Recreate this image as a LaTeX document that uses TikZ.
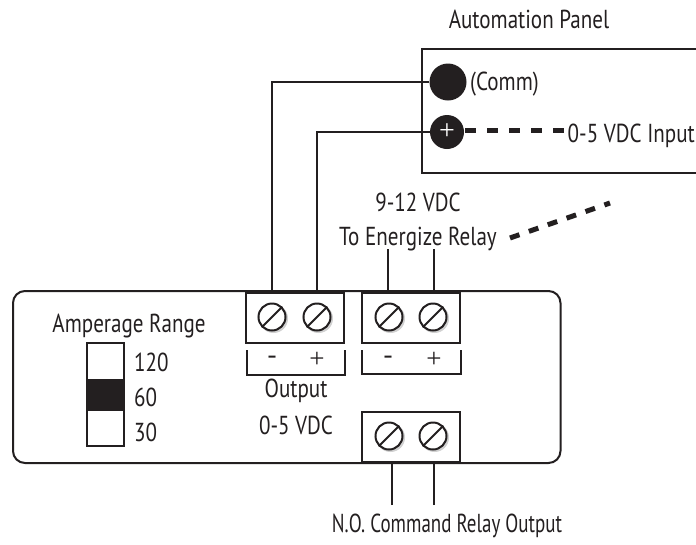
\documentclass[tikz,border=0pt]{standalone}
\usepackage{fontspec}
\setmainfont[FakeStretch=0.81]{PT Sans}
\newfontfamily\narrowfont[FakeStretch=0.73]{PT Sans}
\newfontfamily\thinsym{Liberation Serif}
\definecolor{ink}{HTML}{231F20}
\tikzset{
 wire/.style={draw=ink,line width=1.8pt},
 heavy/.style={draw=ink,line width=2pt},
 thickdash/.style={draw=ink,line width=5pt,dash pattern=on 11pt off 11pt},
 label/.style={inner sep=0pt,font=\fontsize{26}{28}\selectfont,text=ink},
 sym/.style={inner sep=0pt,font=\thinsym\fontsize{27}{27}\selectfont,text=ink},
 screwhead/.style={circle,draw=ink,line width=2pt,fill=white,minimum size=27pt,inner sep=0pt},
 termbox/.style={rectangle,draw=ink,line width=2pt,fill=white,minimum width=98pt,minimum height=50pt,inner sep=0pt},
}
\newcommand{\screwat}[3]{%
  \fill[black!18] (#2+1.5,#3+1.5) circle (14.5pt);
  \node[screwhead] (#1) at (#2,#3) {};
  \draw[ink,line width=2pt] (#1.south west) -- (#1.north east);
}
\begin{document}
\begin{tikzpicture}[x=1pt,y=-1pt]
\useasboundingbox (0,0) rectangle (696,544);
\clip (0,0) rectangle (696,544);
% automation panel
\draw[heavy] (699,49) -- (422,49) -- (422,173) -- (699,173);
\node[label] (ap) at (529,19) {Automation Panel};
\node[circle,fill=ink,minimum size=37pt,inner sep=0pt] (comm) at (448,82) {};
\node[circle,fill=ink,minimum size=34pt,inner sep=0pt,text=white,font=\thinsym\fontsize{28}{28}\selectfont] (plus) at (447,132) {+};
\node[label,anchor=west] (commt) at (470,84) {(Comm)};
\node[label,anchor=east] (inp) at (695,136) {0-5 VDC Input};
\coordinate (dashstart) at (465,130.5);
\coordinate (dashstop) at (566,130.5);
\draw[thickdash] (dashstart) -- (dashstop);
% main box
\draw[heavy,rounded corners=12pt] (13,291) rectangle (560.5,463);
% terminals
\node[termbox] (t1) at (295,318) {};
\node[termbox] (t2) at (411,318) {};
\node[termbox] (t3) at (411,437) {};
\screwat{s1}{272}{317}
\screwat{s2}{317}{317}
\screwat{s3}{389}{317}
\screwat{s4}{433}{317}
\screwat{s5}{389}{436}
\screwat{s6}{433}{436}
% wires
\draw[wire] (comm.west) -| (272,293);
\draw[wire] (plus.west) -| (317,293);
\coordinate (w3) at (388,249); \coordinate (w4) at (434,249);
\coordinate (w5) at (392,505); \coordinate (w6) at (434,505);
\draw[wire] (w3) -- (388,292);
\draw[wire] (w4) -- (434,292);
\draw[wire] (w5) -- (392,463);
\draw[wire] (w6) -- (434,463);
% brackets
\draw[wire] (247,350) -- (247,375) -- (345,375) -- (345,350);
\draw[wire] (362,350) -- (362,374) -- (461,374) -- (461,350);
\node[sym] at (272,360) {-};
\node[sym] at (317,360) {+};
\node[sym] at (388,360) {-};
\node[sym] at (434,360) {+};
% labels
\node[label] at (296,391) {Output};
\node[label] at (296,425) {0-5 VDC};
\node[label] at (418,202) {9-12 VDC};
\node[label] (ener) at (418,239) {To Energize Relay};
\node[label] at (447,526) {\narrowfont N.O. Command Relay Output};
\coordinate (dashend) at (610,203);
\draw[draw=ink,line width=5pt,dash pattern=on 10pt off 10pt] (510,238) -- (dashend);
% switch
\node[label] at (129,326) {Amperage Range};
\draw[heavy,fill=white] (87,343) rectangle (124,446);
\fill[ink] (87,379) rectangle (124,411);
\node[label,anchor=west] at (134,362) {120};
\node[label,anchor=west] at (134,397) {60};
\node[label,anchor=west] at (134,432) {30};
\end{tikzpicture}
\end{document}
